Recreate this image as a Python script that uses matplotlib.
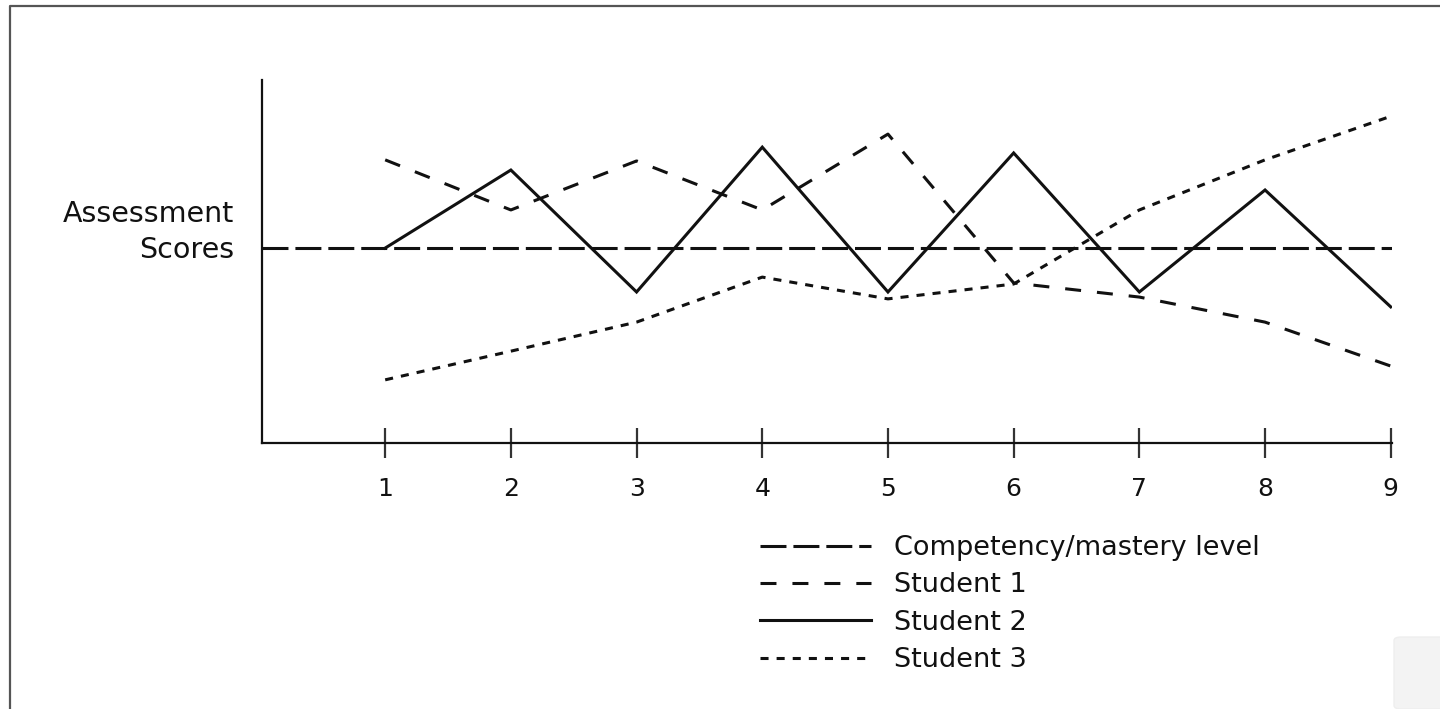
import matplotlib
matplotlib.use("Agg")
import matplotlib.pyplot as plt
from matplotlib.lines import Line2D
from matplotlib.patches import FancyBboxPatch

plt.rcParams['font.family'] = ['DejaVu Sans']
plt.rcParams['lines.scale_dashes'] = False

# ---- data (arbitrary score units) ----
assessments = [1, 2, 3, 4, 5, 6, 7, 8, 9]
tick_labels = ["1", "2", "3", "4", "5", "6", "7", "8", "9"]
competency_level = 53.7
student1 = [78.0, 64.2, 77.7, 64.2, 85.1, 44.1, 40.2, 33.3, 21.2]
student2 = [53.7, 75.2, 41.6, 81.5, 41.6, 79.9, 41.6, 69.7, 37.5]
student3 = [17.4, 25.3, 33.3, 45.7, 39.7, 43.8, 64.2, 78.0, 90.0]
series_names = ["Competency/mastery level", "Student 1", "Student 2", "Student 3"]
y_label = "Assessment\nScores"

W, H = 1440, 709
fig = plt.figure(figsize=(W / 100, H / 100), dpi=100)
fig.patch.set_facecolor("white")

ax = fig.add_axes([262 / W, 1 - 443 / H, (1392 - 262) / W, (443 - 80) / H])
ax.set_xlim(0.02, 9.01)
ax.set_ylim(0, 100)

lw = 2.2
col = "#111111"
l0 = ax.axhline(competency_level, color=col, lw=lw, dashes=(18.7, 5.0),
                label=series_names[0])
l1, = ax.plot(assessments, student1, color=col, lw=lw, dashes=(11.5, 11.5),
              label=series_names[1])
l2, = ax.plot(assessments, student2, color=col, lw=lw, solid_joinstyle='miter',
              label=series_names[2])
l3, = ax.plot(assessments, student3, color=col, lw=lw, dashes=(5.8, 5.8),
              label=series_names[3])

for s in ("top", "right"):
    ax.spines[s].set_visible(False)
for s in ("left", "bottom"):
    ax.spines[s].set_linewidth(1.6)
    ax.spines[s].set_color("#111111")

ax.set_xticks(assessments)
ax.set_xticklabels(tick_labels)
ax.set_yticks([])
ax.tick_params(axis='x', direction='inout', length=21.6, width=1.6,
               color="#333333", labelsize=18, pad=13.5, labelcolor="#111111")

fig.text(234 / W, 1 - 232 / H, y_label, ha='right', va='center',
         fontsize=20.5, color="#111111", linespacing=1.35)

fs = 19.5
leg = fig.legend(handles=[l0, l1, l2, l3], loc='upper left',
                 bbox_to_anchor=(760 / W, 1 - 535 / H), frameon=False,
                 fontsize=fs, handlelength=4.1, handletextpad=0.85,
                 labelspacing=0.42, borderpad=0, borderaxespad=0)
for t in leg.get_texts():
    t.set_color("#111111")

# page border (top and left edges visible)
fig.add_artist(Line2D([10 / W, 10 / W, 1.0], [0.0, 1 - 6 / H, 1 - 6 / H],
                      transform=fig.transFigure, color="#555555", lw=1.6))
# faint expand-button box at bottom right
fig.add_artist(FancyBboxPatch((1394 / W, 0.0), 60 / W, 72 / H,
                              boxstyle="round,pad=0,rounding_size=0.005",
                              transform=fig.transFigure, facecolor="#f3f3f3",
                              edgecolor="#eeeeee", lw=1))

fig.savefig("out.png", dpi=100, facecolor="white")
